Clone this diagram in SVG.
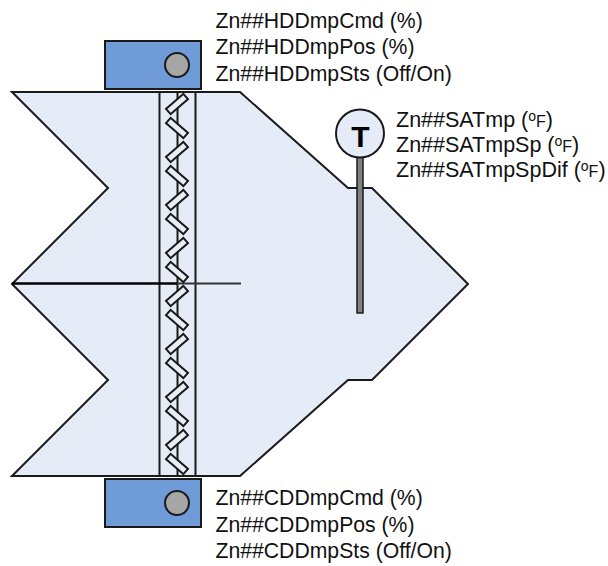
<svg xmlns="http://www.w3.org/2000/svg" xmlns:xlink="http://www.w3.org/1999/xlink" width="608" height="566" viewBox="0 0 608 566">
<style>
text{font-family:"Liberation Sans",Arial,sans-serif;font-size:21.2px;fill:#111}
.sat{font-size:21.5px}
.o{font-size:14px}
.f{font-size:16px}
.box{fill:#6f9bd8;stroke:#1a1a1a;stroke-width:2}
.knob{fill:#a6a6a6;stroke:#1a1a1a;stroke-width:2}
.ln{fill:none;stroke:#1a1a1a;stroke-width:2}
.blade{fill:#e8edf7;stroke:#1a1a1a;stroke-width:2}
</style>
<defs>
<rect id="b" x="-11.500" y="-3.500" width="23" height="7" class="blade"/>
</defs>
<g id="duct"><path d="M12 92H240L348 188H372L468 284L372 380H348L240 476H12L108 380L12 284L108 188Z" fill="#e6ecf7" stroke="#1a1a1a" stroke-width="2" stroke-linejoin="miter"/></g>
<g id="connectors">
<path class="ln" d="M159.500 92V476M177.500 92V476M195.500 92V476"/>
<path d="M12 283.500H177" fill="none" stroke="#000" stroke-width="2.400"/>
<path d="M177 283.500H241" fill="none" stroke="#333" stroke-width="2"/>
</g>
<g id="blades">
<use xlink:href="#b" href="#b" transform="translate(177 104) rotate(-41)"/>
<use xlink:href="#b" href="#b" transform="translate(177 128) rotate(41)"/>
<use xlink:href="#b" href="#b" transform="translate(177 152) rotate(-41)"/>
<use xlink:href="#b" href="#b" transform="translate(177 176) rotate(41)"/>
<use xlink:href="#b" href="#b" transform="translate(177 200) rotate(-41)"/>
<use xlink:href="#b" href="#b" transform="translate(177 224) rotate(41)"/>
<use xlink:href="#b" href="#b" transform="translate(177 248) rotate(-41)"/>
<use xlink:href="#b" href="#b" transform="translate(177 272) rotate(41)"/>
<use xlink:href="#b" href="#b" transform="translate(177 296) rotate(-41)"/>
<use xlink:href="#b" href="#b" transform="translate(177 320) rotate(41)"/>
<use xlink:href="#b" href="#b" transform="translate(177 344) rotate(-41)"/>
<use xlink:href="#b" href="#b" transform="translate(177 368) rotate(41)"/>
<use xlink:href="#b" href="#b" transform="translate(177 392) rotate(-41)"/>
<use xlink:href="#b" href="#b" transform="translate(177 416) rotate(41)"/>
<use xlink:href="#b" href="#b" transform="translate(177 440) rotate(-41)"/>
<use xlink:href="#b" href="#b" transform="translate(177 464) rotate(41)"/>
</g>
<g id="hd-damper">
<rect class="box" x="105" y="41" width="96" height="48"/>
<circle class="knob" cx="177" cy="65" r="12"/>
<text x="215.500" y="27.500">Zn##HDDmpCmd (%)</text>
<text x="215.500" y="54">Zn##HDDmpPos (%)</text>
<text x="215.500" y="80.500">Zn##HDDmpSts (Off/On)</text>
</g>
<g id="cd-damper">
<rect class="box" x="105" y="479" width="96" height="48"/>
<circle class="knob" cx="177" cy="503" r="12"/>
<text x="215.500" y="505">Zn##CDDmpCmd (%)</text>
<text x="215.500" y="531.500">Zn##CDDmpPos (%)</text>
<text x="215.500" y="558">Zn##CDDmpSts (Off/On)</text>
</g>
<g id="sensor">
<rect x="357" y="157" width="6" height="156" fill="#808080" stroke="#1a1a1a" stroke-width="1.500"/>
<circle cx="360" cy="133.500" r="24" fill="#e6ecf7" stroke="#1a1a1a" stroke-width="2"/>
<text x="360.500" y="146.500" text-anchor="middle" style="font-size:30px;font-weight:bold;fill:#000">T</text>
<text class="sat" x="396" y="127">Zn##SATmp (<tspan class="o" dy="-6">o</tspan><tspan class="f" dy="6">F</tspan>)</text>
<text class="sat" x="396" y="152">Zn##SATmpSp (<tspan class="o" dy="-6">o</tspan><tspan class="f" dy="6">F</tspan>)</text>
<text class="sat" x="396" y="177">Zn##SATmpSpDif (<tspan class="o" dy="-6">o</tspan><tspan class="f" dy="6">F</tspan>)</text>
</g>
</svg>
